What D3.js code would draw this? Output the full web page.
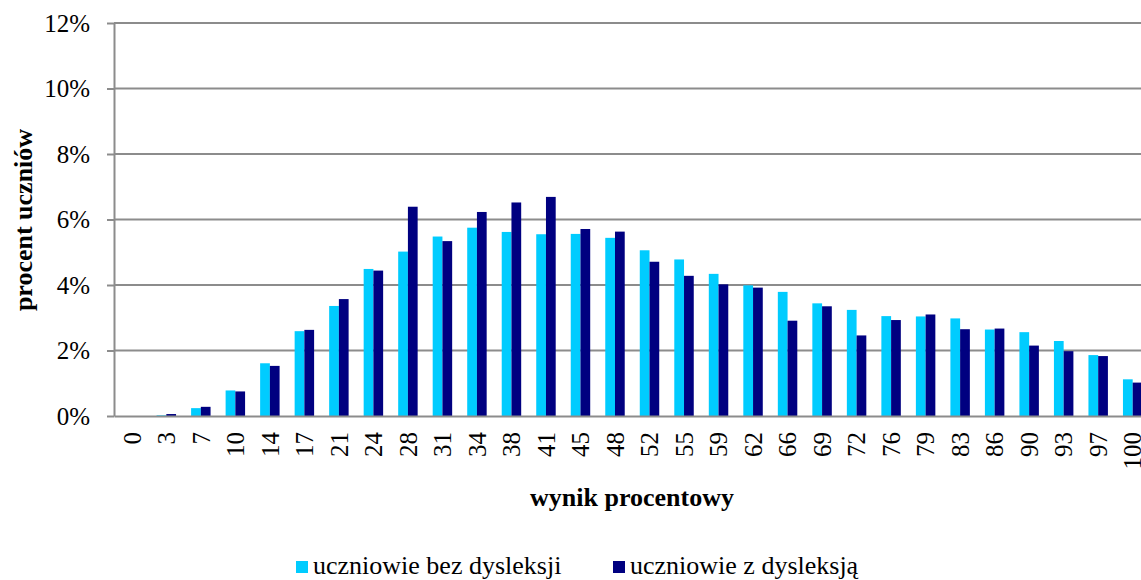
<!DOCTYPE html>
<html>
<head>
<meta charset="utf-8">
<script src="https://cdn.jsdelivr.net/npm/d3@7"></script>
<style>
  body { margin: 0; background: #fff; }
  svg { display: block; font-family: "Liberation Serif", "Times New Roman", serif; }
</style>
</head>
<body>
<div id="graph"></div>
<script>
// wynik procentowy (x categories)
var categories = [0, 3, 7, 10, 14, 17, 21, 24, 28, 31, 34, 38, 41, 45, 48, 52, 55, 59, 62, 66, 69, 72, 76, 79, 83, 86, 90, 93, 97, 100];

// procent uczniów
var bezDysleksji = [0, 0.02, 0.24, 0.78, 1.61, 2.59, 3.36, 4.49, 5.02, 5.48, 5.75, 5.62, 5.55, 5.56, 5.44, 5.06, 4.78, 4.34, 3.99, 3.79, 3.44, 3.24, 3.05, 3.04, 2.98, 2.64, 2.56, 2.29, 1.86, 1.12];
var zDysleksja = [0, 0.06, 0.28, 0.75, 1.53, 2.63, 3.57, 4.44, 6.39, 5.34, 6.23, 6.52, 6.69, 5.71, 5.63, 4.71, 4.28, 4.02, 3.92, 2.91, 3.35, 2.46, 2.93, 3.10, 2.65, 2.67, 2.15, 1.98, 1.83, 1.02];

var seriesNames = ['uczniowie bez dysleksji', 'uczniowie z dysleksją'];
var seriesColors = ['#00ccff', '#000080'];
var yTicks = [0, 2, 4, 6, 8, 10, 12];

var width = 1141, height = 580;
var plot = { left: 114, top: 23, bottom: 416, right: 1150.5 };

var svg = d3.select('#graph')
  .append('svg')
  .attr('width', width)
  .attr('height', height);

// ---------------------------//
//       AXIS  AND SCALE      //
// ---------------------------//
var x = d3.scaleBand()
  .domain(categories)
  .range([plot.left, plot.right])
  .paddingInner(0.436)
  .paddingOuter(0.234);

var xSub = d3.scaleBand()
  .domain([0, 1])
  .range([0, x.bandwidth()]);

var y = d3.scaleLinear()
  .domain([0, 12])
  .range([plot.bottom, plot.top]);

// gridlines
svg.append('g')
  .selectAll('line')
  .data(yTicks.filter(function(d) { return d > 0; }))
  .enter()
  .append('line')
  .attr('x1', plot.left)
  .attr('x2', plot.right)
  .attr('y1', function(d) { return y(d); })
  .attr('y2', function(d) { return y(d); })
  .attr('stroke', '#8c8c8c')
  .attr('stroke-width', 2);

// bars
var rows = categories.map(function(c, i) { return [bezDysleksji[i], zDysleksja[i]]; });
svg.append('g')
  .selectAll('g')
  .data(rows)
  .enter()
  .append('g')
  .attr('transform', function(d, i) { return 'translate(' + x(categories[i]) + ',0)'; })
  .selectAll('rect')
  .data(function(d) { return d; })
  .enter()
  .append('rect')
  .attr('x', function(d, j) { return xSub(j); })
  .attr('y', function(d) { return y(d); })
  .attr('width', xSub.bandwidth())
  .attr('height', function(d) { return plot.bottom - y(d); })
  .attr('fill', function(d, j) { return seriesColors[j]; });

// y axis
var yAxis = svg.append('g')
  .attr('transform', 'translate(' + plot.left + ',0)')
  .call(d3.axisLeft(y).tickValues(yTicks).tickSizeInner(7).tickSizeOuter(0).tickPadding(17)
    .tickFormat(function(d) { return d + '%'; }));
yAxis.select('.domain').attr('stroke', '#8c8c8c').attr('stroke-width', 2);
yAxis.selectAll('.tick line').attr('stroke', '#8c8c8c').attr('stroke-width', 2);
yAxis.selectAll('.tick text')
  .attr('font-size', 25)
  .attr('font-family', '"Liberation Serif", "Times New Roman", serif')
  .attr('fill', '#000');

// x axis
var xAxis = svg.append('g')
  .attr('transform', 'translate(0,' + plot.bottom + ')')
  .call(d3.axisBottom(x).tickSize(0).tickPadding(0));
xAxis.select('.domain').attr('stroke', '#8c8c8c').attr('stroke-width', 2);
xAxis.selectAll('.tick text')
  .attr('font-size', 25)
  .attr('font-family', '"Liberation Serif", "Times New Roman", serif')
  .attr('fill', '#000')
  .attr('text-anchor', 'end')
  .attr('transform', 'translate(0,16) rotate(-90)')
  .attr('x', 0)
  .attr('y', 0)
  .attr('dy', '0.35em');

// axis titles
svg.append('text')
  .attr('x', 632)
  .attr('y', 506)
  .attr('text-anchor', 'middle')
  .attr('font-size', 26)
  .attr('font-weight', 'bold')
  .text('wynik procentowy');

svg.append('text')
  .attr('transform', 'translate(32,220) rotate(-90)')
  .attr('text-anchor', 'middle')
  .attr('font-size', 26)
  .attr('font-weight', 'bold')
  .text('procent uczniów');

// ---------------------------//
//       LEGEND               //
// ---------------------------//
var legendX = [296, 613];
var legend = svg.append('g')
  .selectAll('g')
  .data(seriesNames)
  .enter()
  .append('g')
  .attr('transform', function(d, i) { return 'translate(' + legendX[i] + ',0)'; });

legend.append('rect')
  .attr('x', 0)
  .attr('y', 561)
  .attr('width', 12)
  .attr('height', 12)
  .attr('fill', function(d, i) { return seriesColors[i]; });

legend.append('text')
  .attr('x', 17)
  .attr('y', 574)
  .attr('font-size', 26)
  .text(function(d) { return d; });
</script>
</body>
</html>
